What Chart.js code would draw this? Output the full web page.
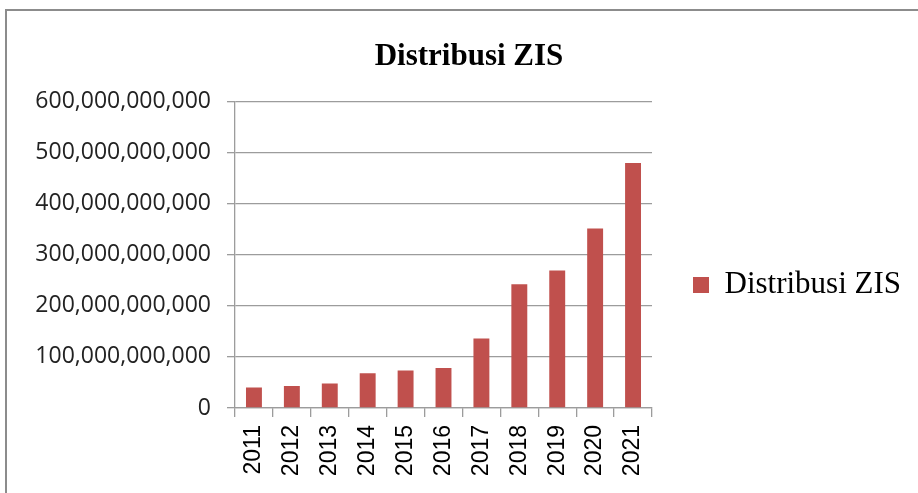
<!DOCTYPE html>
<html>
<head>
<meta charset="utf-8">
<script src="https://cdn.jsdelivr.net/npm/chart.js@4/dist/chart.umd.min.js"></script>
<style>
  html, body { margin: 0; padding: 0; background: #fff; overflow: hidden; width: 918px; height: 493px; }
  #frame { position: absolute; left: 5px; top: 9px; width: 2000px; height: 2000px;
           border-left: 2px solid #8c8c8c; border-top: 2px solid #8c8c8c; }
  #chart { position: absolute; left: 10px; top: 0; }
</style>
</head>
<body>
<div id="frame"></div>
<canvas id="chart" width="918" height="570"></canvas>
<script>
const years = ["2011", "2012", "2013", "2014", "2015", "2016", "2017", "2018", "2019", "2020", "2021"];
const distribusi = [40e9, 43e9, 48e9, 68e9, 73.5e9, 78e9, 136e9, 242e9, 269e9, 351e9, 479e9];
const yTicks = [0, 100e9, 200e9, 300e9, 400e9, 500e9, 600e9];

const gridColor = "#9c9c9c";

// chart.js caps a side legend at a quarter of the width, the original one is wider
const legendWidth = {
  id: "legendWidth",
  afterInit(chart) {
    const legend = chart.legend;
    const fit = legend.fit;
    legend.fit = function () {
      fit.call(this);
      this.width = 258;
    };
  },
};

const data = {
  labels: years,
  datasets: [
    {
      label: "Distribusi ZIS",
      backgroundColor: "#c0504d",
      borderColor: "#c0504d",
      borderWidth: 0,
      barPercentage: 0.42,
      categoryPercentage: 1,
      data: distribusi,
    },
  ],
};

const config = {
  type: "bar",
  data,
  plugins: [legendWidth],
  options: {
    responsive: false,
    animation: false,
    layout: { padding: { left: 18, right: 18, top: 0, bottom: 0 } },
    plugins: {
      title: {
        display: true,
        text: "Distribusi ZIS",
        color: "#000",
        font: { family: "Liberation Serif", size: 31, weight: "bold" },
        padding: { top: 38, bottom: 26 },
      },
      legend: {
        position: "right",
        labels: {
          color: "#000",
          boxWidth: 16,
          boxHeight: 16,
          padding: 41,
          font: { family: "Liberation Serif", size: 31 },
        },
      },
      tooltip: { enabled: false },
    },
    scales: {
      x: {
        afterFit: (scale) => { scale.height = 162; },
        grid: {
          offset: true,
          drawOnChartArea: false,
          drawTicks: true,
          tickLength: 9,
          color: gridColor,
          lineWidth: 1.3,
        },
        border: { display: true, color: gridColor, width: 1.3 },
        ticks: {
          color: "#000",
          minRotation: 90,
          maxRotation: 90,
          padding: 8,
          font: { family: "Liberation Sans", size: 23 },
        },
      },
      y: {
        min: 0,
        max: 600e9,
        afterFit: (scale) => { scale.width = 207; },
        afterBuildTicks: (scale) => { scale.ticks = yTicks.map((v) => ({ value: v })); },
        grid: { color: gridColor, lineWidth: 1.3, tickLength: 8 },
        border: { display: true, color: gridColor, width: 1.3 },
        ticks: {
          color: "#222",
          padding: 16,
          font: { family: "Open Sans", size: 23 },
          callback: (value) => Number(value).toLocaleString("en-US"),
        },
      },
    },
  },
};

const myChart = new Chart(document.getElementById("chart"), config);
</script>
</body>
</html>
